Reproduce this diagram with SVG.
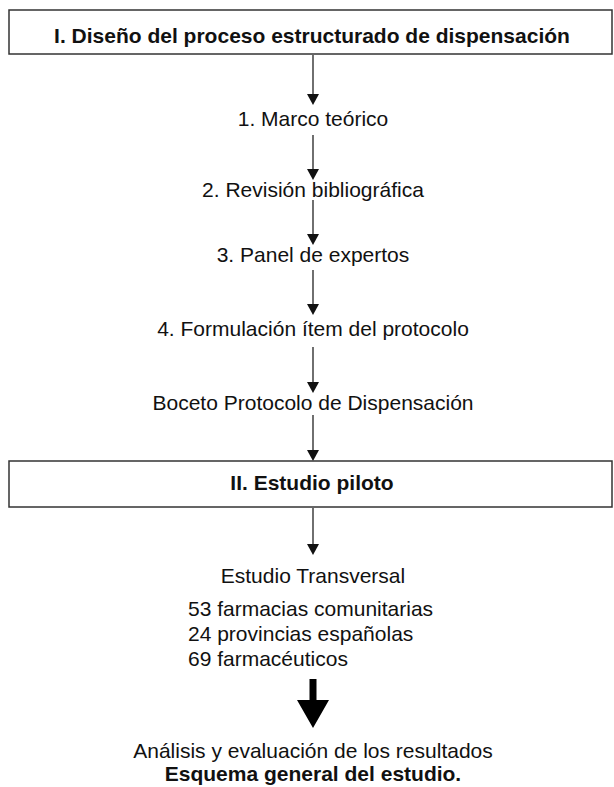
<svg xmlns="http://www.w3.org/2000/svg" width="614" height="787" viewBox="0 0 614 787">
<style>
.t{font-family:"Liberation Sans",Arial,Helvetica,sans-serif;font-size:21px;fill:#111;text-anchor:middle}
.b{font-weight:bold}
.box{fill:#fff;stroke:#333;stroke-width:1.5}
.ln{stroke:#333;stroke-width:1.4;fill:none}
</style>
<defs>
<marker id="ah" markerUnits="userSpaceOnUse" markerWidth="12" markerHeight="12" viewBox="0 0 12 12" refX="6" refY="11" orient="auto-start-reverse">
<path d="M0,1 L12,1 L6,11 Z" fill="#111" transform="rotate(-90 6 6)"/>
</marker>
</defs>
<rect width="614" height="787" fill="#fff"/>
<g id="connectors">
<line class="ln" x1="313" y1="55" x2="313" y2="95"/><polygon points="307,94 319,94 313,105" fill="#111"/>
<line class="ln" x1="313" y1="135" x2="313" y2="170"/><polygon points="307,169 319,169 313,180" fill="#111"/>
<line class="ln" x1="313" y1="200" x2="313" y2="235"/><polygon points="307,234 319,234 313,245" fill="#111"/>
<line class="ln" x1="313" y1="270" x2="313" y2="305"/><polygon points="307,304 319,304 313,315" fill="#111"/>
<line class="ln" x1="313" y1="347" x2="313" y2="383"/><polygon points="307,382 319,382 313,393" fill="#111"/>
<line class="ln" x1="313" y1="415" x2="313" y2="451"/><polygon points="307,450 319,450 313,461" fill="#111"/>
<line class="ln" x1="313" y1="508" x2="313" y2="545"/><polygon points="307,544 319,544 313,555" fill="#111"/>
<polygon points="309.5,679 316.5,679 316.5,700 329,700 313,728 297,700 309.5,700" fill="#000"/>
</g>
<g id="n1"><rect class="box" x="9" y="10" width="603" height="44"/><text class="t b" x="312" y="43">I. Diseño del proceso estructurado de dispensación</text></g>
<g id="n2"><text class="t" x="313" y="126">1. Marco teórico</text></g>
<g id="n3"><text class="t" x="313" y="197">2. Revisión bibliográfica</text></g>
<g id="n4"><text class="t" x="313" y="262">3. Panel de expertos</text></g>
<g id="n5"><text class="t" x="313" y="336">4. Formulación ítem del protocolo</text></g>
<g id="n6"><text class="t" x="313" y="410">Boceto Protocolo de Dispensación</text></g>
<g id="n7"><rect class="box" x="9" y="461" width="603" height="46"/><text class="t b" x="312" y="490">II. Estudio piloto</text></g>
<g id="n8"><text class="t" x="313" y="583">Estudio Transversal</text>
<text class="t" x="188" y="616" style="text-anchor:start">53 farmacias comunitarias</text>
<text class="t" x="188" y="641" style="text-anchor:start">24 provincias españolas</text>
<text class="t" x="188" y="666" style="text-anchor:start">69 farmacéuticos</text></g>
<g id="n9"><text class="t" x="313" y="758">Análisis y evaluación de los resultados</text>
<text class="t b" x="313" y="781">Esquema general del estudio.</text></g>
</svg>
